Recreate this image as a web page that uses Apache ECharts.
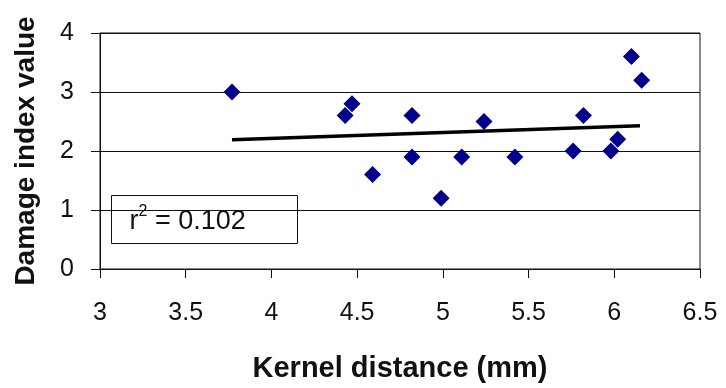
<!DOCTYPE html>
<html>
<head>
<meta charset="utf-8">
<script src="https://cdn.jsdelivr.net/npm/echarts@6/dist/echarts.min.js"></script>
<style>
html,body{margin:0;padding:0;background:#fff;}
#chart{width:726px;height:388px;}
</style>
</head>
<body>
<div id="chart"></div>
<script>
// Data
var kernelDistance = [3.77, 4.43, 4.47, 4.59, 4.82, 4.82, 4.99, 5.11, 5.24, 5.42, 5.76, 5.82, 5.98, 6.02, 6.10, 6.16];
var damageIndex    = [3.0,  2.6,  2.8,  1.6,  2.6,  1.9,  1.2,  1.9,  2.5,  1.9,  2.0,  2.6,  2.0,  2.2,  3.6,  3.2];
var trendX = [3.77, 6.15];
var trendY = [2.19, 2.43];
var xTicks = [3, 3.5, 4, 4.5, 5, 5.5, 6, 6.5];
var yTicks = [0, 1, 2, 3, 4];
var rSquared = '0.102';
var xTitle = 'Kernel distance (mm)';
var yTitle = 'Damage index value';

var points = kernelDistance.map(function (x, i) { return [x, damageIndex[i]]; });
var trend = trendX.map(function (x, i) { return [x, trendY[i]]; });

var FONT = '"Liberation Sans", Arial, sans-serif';
var chart = echarts.init(document.getElementById('chart'), null, {renderer: 'canvas'});
chart.setOption({
  animation: false,
  backgroundColor: '#fff',
  grid: {left: 100, right: 26, top: 33, bottom: 117, show: true, borderColor: '#111', borderWidth: 1, backgroundColor: 'transparent'},
  xAxis: {
    type: 'value', min: xTicks[0], max: xTicks[xTicks.length - 1], interval: 0.5,
    name: xTitle, nameLocation: 'middle', nameGap: 85,
    nameTextStyle: {fontFamily: FONT, fontSize: 29, fontWeight: 'bold', color: '#111'},
    axisLine: {show: true, onZero: false, lineStyle: {color: '#111', width: 1}},
    axisTick: {show: true, inside: false, length: 9, lineStyle: {color: '#111'}},
    axisLabel: {fontFamily: FONT, fontSize: 25, color: '#111', margin: 32},
    splitLine: {show: false}
  },
  yAxis: {
    type: 'value', min: yTicks[0], max: yTicks[yTicks.length - 1], interval: 1,
    name: yTitle, nameLocation: 'middle', nameGap: 60, nameRotate: 90,
    nameTextStyle: {fontFamily: FONT, fontSize: 28, fontWeight: 'bold', color: '#111'},
    axisLine: {show: true, onZero: false, lineStyle: {color: '#111', width: 1}},
    axisTick: {show: true, inside: false, length: 9, lineStyle: {color: '#111'}},
    axisLabel: {fontFamily: FONT, fontSize: 25, color: '#111', margin: 26},
    splitLine: {show: true, lineStyle: {color: '#111', width: 1}}
  },
  series: [
    {
      type: 'line', data: trend, symbol: 'none', silent: true, z: 3,
      lineStyle: {color: '#000', width: 3.5}
    },
    {
      type: 'scatter', data: points, symbol: 'diamond', symbolSize: 17, z: 4,
      itemStyle: {color: '#00008b', opacity: 1}
    }
  ],
  graphic: [
    {
      type: 'group', left: 111, top: 195, z: 10,
      children: [
        {type: 'rect', shape: {x: 0, y: 0, width: 186, height: 48}, style: {fill: '#fff', stroke: '#111', lineWidth: 1}},
        {type: 'text', x: 18, y: 24, style: {
          text: '{a|r}{s|2}{a| = ' + rSquared + '}',
          verticalAlign: 'middle',
          rich: {
            a: {fontFamily: FONT, fontSize: 27, fill: '#111', lineHeight: 32, verticalAlign: 'bottom'},
            s: {fontFamily: FONT, fontSize: 16, fill: '#111', lineHeight: 32, verticalAlign: 'top'}
          }
        }}
      ]
    }
  ]
});
</script>
</body>
</html>
